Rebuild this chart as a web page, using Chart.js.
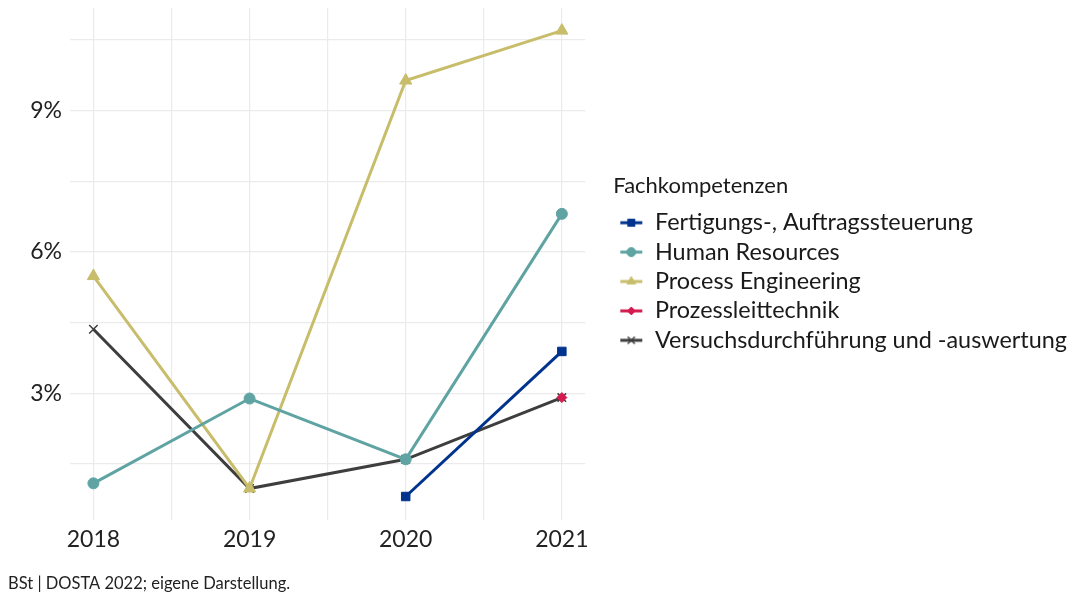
<!DOCTYPE html>
<html>
<head>
<meta charset="utf-8">
<script src="https://cdn.jsdelivr.net/npm/chart.js@4/dist/chart.umd.min.js"></script>
<style>
  html, body { margin: 0; padding: 0; background: #fff; }
  #wrap { position: relative; width: 1074px; height: 596px; }
</style>
</head>
<body>
<div id="wrap"><canvas id="myChart"></canvas></div>
<script>
var years = [2018, 2019, 2020, 2021];
var fertigung = [null, null, 0.81, 3.89];
var humanRes = [1.09, 2.89, 1.60, 6.81];
var processEng = [5.49, 0.98, 9.64, 10.70];
var prozessleit = [null, null, null, 2.91];
var versuch = [4.36, 0.98, 1.60, 2.91];
var seriesNames = ['Fertigungs-, Auftragssteuerung', 'Human Resources', 'Process Engineering', 'Prozessleittechnik', 'Versuchsdurchführung und -auswertung'];
var seriesColors = ['#00338d', '#5fa3a3', '#c8bd6b', '#d41a4f', '#3e3e3e'];
var seriesMarkers = ['rect', 'circle', 'triangle', 'rectRot', 'crossRot'];
var yTicks = [3, 6, 9];
var yMinor = [1.5, 4.5, 7.5, 10.5];
var xMinor = [2018.5, 2019.5, 2020.5];
var legendTitle = 'Fachkompetenzen';
var caption = 'BSt | DOSTA 2022; eigene Darstellung.';

var FONT = 'Lato';
var LEGEND_GAP = 25; // space between plot panel and legend keys

function toPoints(vals) {
  var pts = [];
  for (var i = 0; i < years.length; i++) {
    if (vals[i] !== null) pts.push({x: years[i], y: vals[i]});
  }
  return pts;
}

function markerRadius(style) {
  if (style === 'rect') return 6;
  if (style === 'triangle') return 7;
  if (style === 'crossRot') return 6;
  if (style === 'circle') return 5.5;
  return 5;
}

// small canvas for the legend key: line with the marker on it
function legendIcon(color, style) {
  var c = document.createElement('canvas');
  c.width = 24; c.height = 16;
  var g = c.getContext('2d');
  g.strokeStyle = color;
  g.lineWidth = 3;
  g.beginPath(); g.moveTo(1, 8); g.lineTo(23, 8); g.stroke();
  g.fillStyle = color;
  g.lineWidth = style === 'crossRot' ? 1.5 : 1;
  Chart.helpers.drawPoint(g, {pointStyle: style, radius: Math.min(5, markerRadius(style) - 1), borderWidth: g.lineWidth}, 12, 8);
  return c;
}

var allData = [fertigung, humanRes, processEng, prozessleit, versuch];
var datasets = [];
for (var s = 0; s < allData.length; s++) {
  datasets.push({
    label: seriesNames[s],
    data: toPoints(allData[s]),
    borderColor: seriesColors[s],
    backgroundColor: seriesColors[s],
    borderWidth: 3,
    pointStyle: seriesMarkers[s],
    pointRadius: markerRadius(seriesMarkers[s]),
    pointBorderWidth: seriesMarkers[s] === 'crossRot' ? 1.5 : 1,
    pointBackgroundColor: seriesColors[s],
    pointBorderColor: seriesColors[s],
    tension: 0,
    icon: legendIcon(seriesColors[s], seriesMarkers[s])
  });
}

// widen the legend box on its left side so the panel ends earlier
var legendGapPlugin = {
  id: 'legendGap',
  beforeLayout: function (ch) {
    var lg = ch.legend;
    if (lg && !lg._gapPatched) {
      var origFit = lg.fit;
      lg.fit = function () { origFit.call(this); this.width += LEGEND_GAP; };
      lg._gapPatched = true;
    }
  },
  afterLayout: function (ch) {
    if (ch.legend) {
      ch.legend.left += LEGEND_GAP + 3;
      ch.legend.top += 5;
    }
  }
};

var ctx = document.getElementById('myChart').getContext('2d');
var chart = new Chart(ctx, {
  type: 'line',
  data: { datasets: datasets },
  plugins: [legendGapPlugin],
  options: {
    responsive: true,
    maintainAspectRatio: false,
    animation: false,
    layout: { padding: { top: 8, left: 8, right: 0, bottom: 2 } },
    plugins: {
      tooltip: { enabled: false },
      legend: {
        position: 'right',
        align: 'center',
        fullSize: false,
        maxWidth: 520,
        title: {
          display: true,
          text: legendTitle,
          position: 'start',
          color: '#1a1a1a',
          font: { family: FONT, size: 22 },
          padding: { top: 0, bottom: 4 }
        },
        labels: {
          usePointStyle: true,
          pointStyleWidth: 24,
          padding: 6,
          color: '#1a1a1a',
          font: { family: FONT, size: 23.4 },
          generateLabels: function (ch) {
            return ch.data.datasets.map(function (ds, i) {
              return {
                text: ds.label,
                pointStyle: ds.icon,
                fillStyle: ds.borderColor,
                strokeStyle: ds.borderColor,
                lineWidth: 0,
                hidden: false,
                datasetIndex: i
              };
            });
          }
        }
      },
      title: {
        display: true,
        position: 'bottom',
        align: 'start',
        text: caption,
        color: '#222',
        font: { family: FONT, size: 16.5, weight: 'normal' },
        padding: { top: 15, bottom: 0 }
      }
    },
    scales: {
      x: {
        type: 'linear',
        min: 2017.85,
        max: 2021.15,
        afterBuildTicks: function (scale) {
          var t = years.concat(xMinor).sort();
          scale.ticks = t.map(function (v) { return {value: v}; });
        },
        afterFit: function (scale) { scale.paddingLeft = 0; scale.paddingRight = 0; },
        ticks: {
          autoSkip: false,
          maxRotation: 0,
          padding: 6,
          color: '#222',
          font: { family: FONT, size: 23 },
          callback: function (v) { return years.indexOf(v) >= 0 ? String(v) : ''; }
        },
        grid: { color: '#ebebeb', lineWidth: 1.2, drawTicks: false },
        border: { display: false }
      },
      y: {
        type: 'linear',
        min: 0.32,
        max: 11.18,
        afterBuildTicks: function (scale) {
          var t = yTicks.concat(yMinor).sort(function (a, b) { return a - b; });
          scale.ticks = t.map(function (v) { return {value: v}; });
        },
        afterFit: function (scale) { scale.width = 62; scale.paddingTop = 0; scale.paddingBottom = 0; },
        ticks: {
          autoSkip: false,
          padding: 8,
          color: '#222',
          font: { family: FONT, size: 23 },
          callback: function (v) { return yTicks.indexOf(v) >= 0 ? v + '%' : ''; }
        },
        grid: { color: '#ebebeb', lineWidth: 1.2, drawTicks: false },
        border: { display: false }
      }
    }
  }
});
</script>
</body>
</html>
